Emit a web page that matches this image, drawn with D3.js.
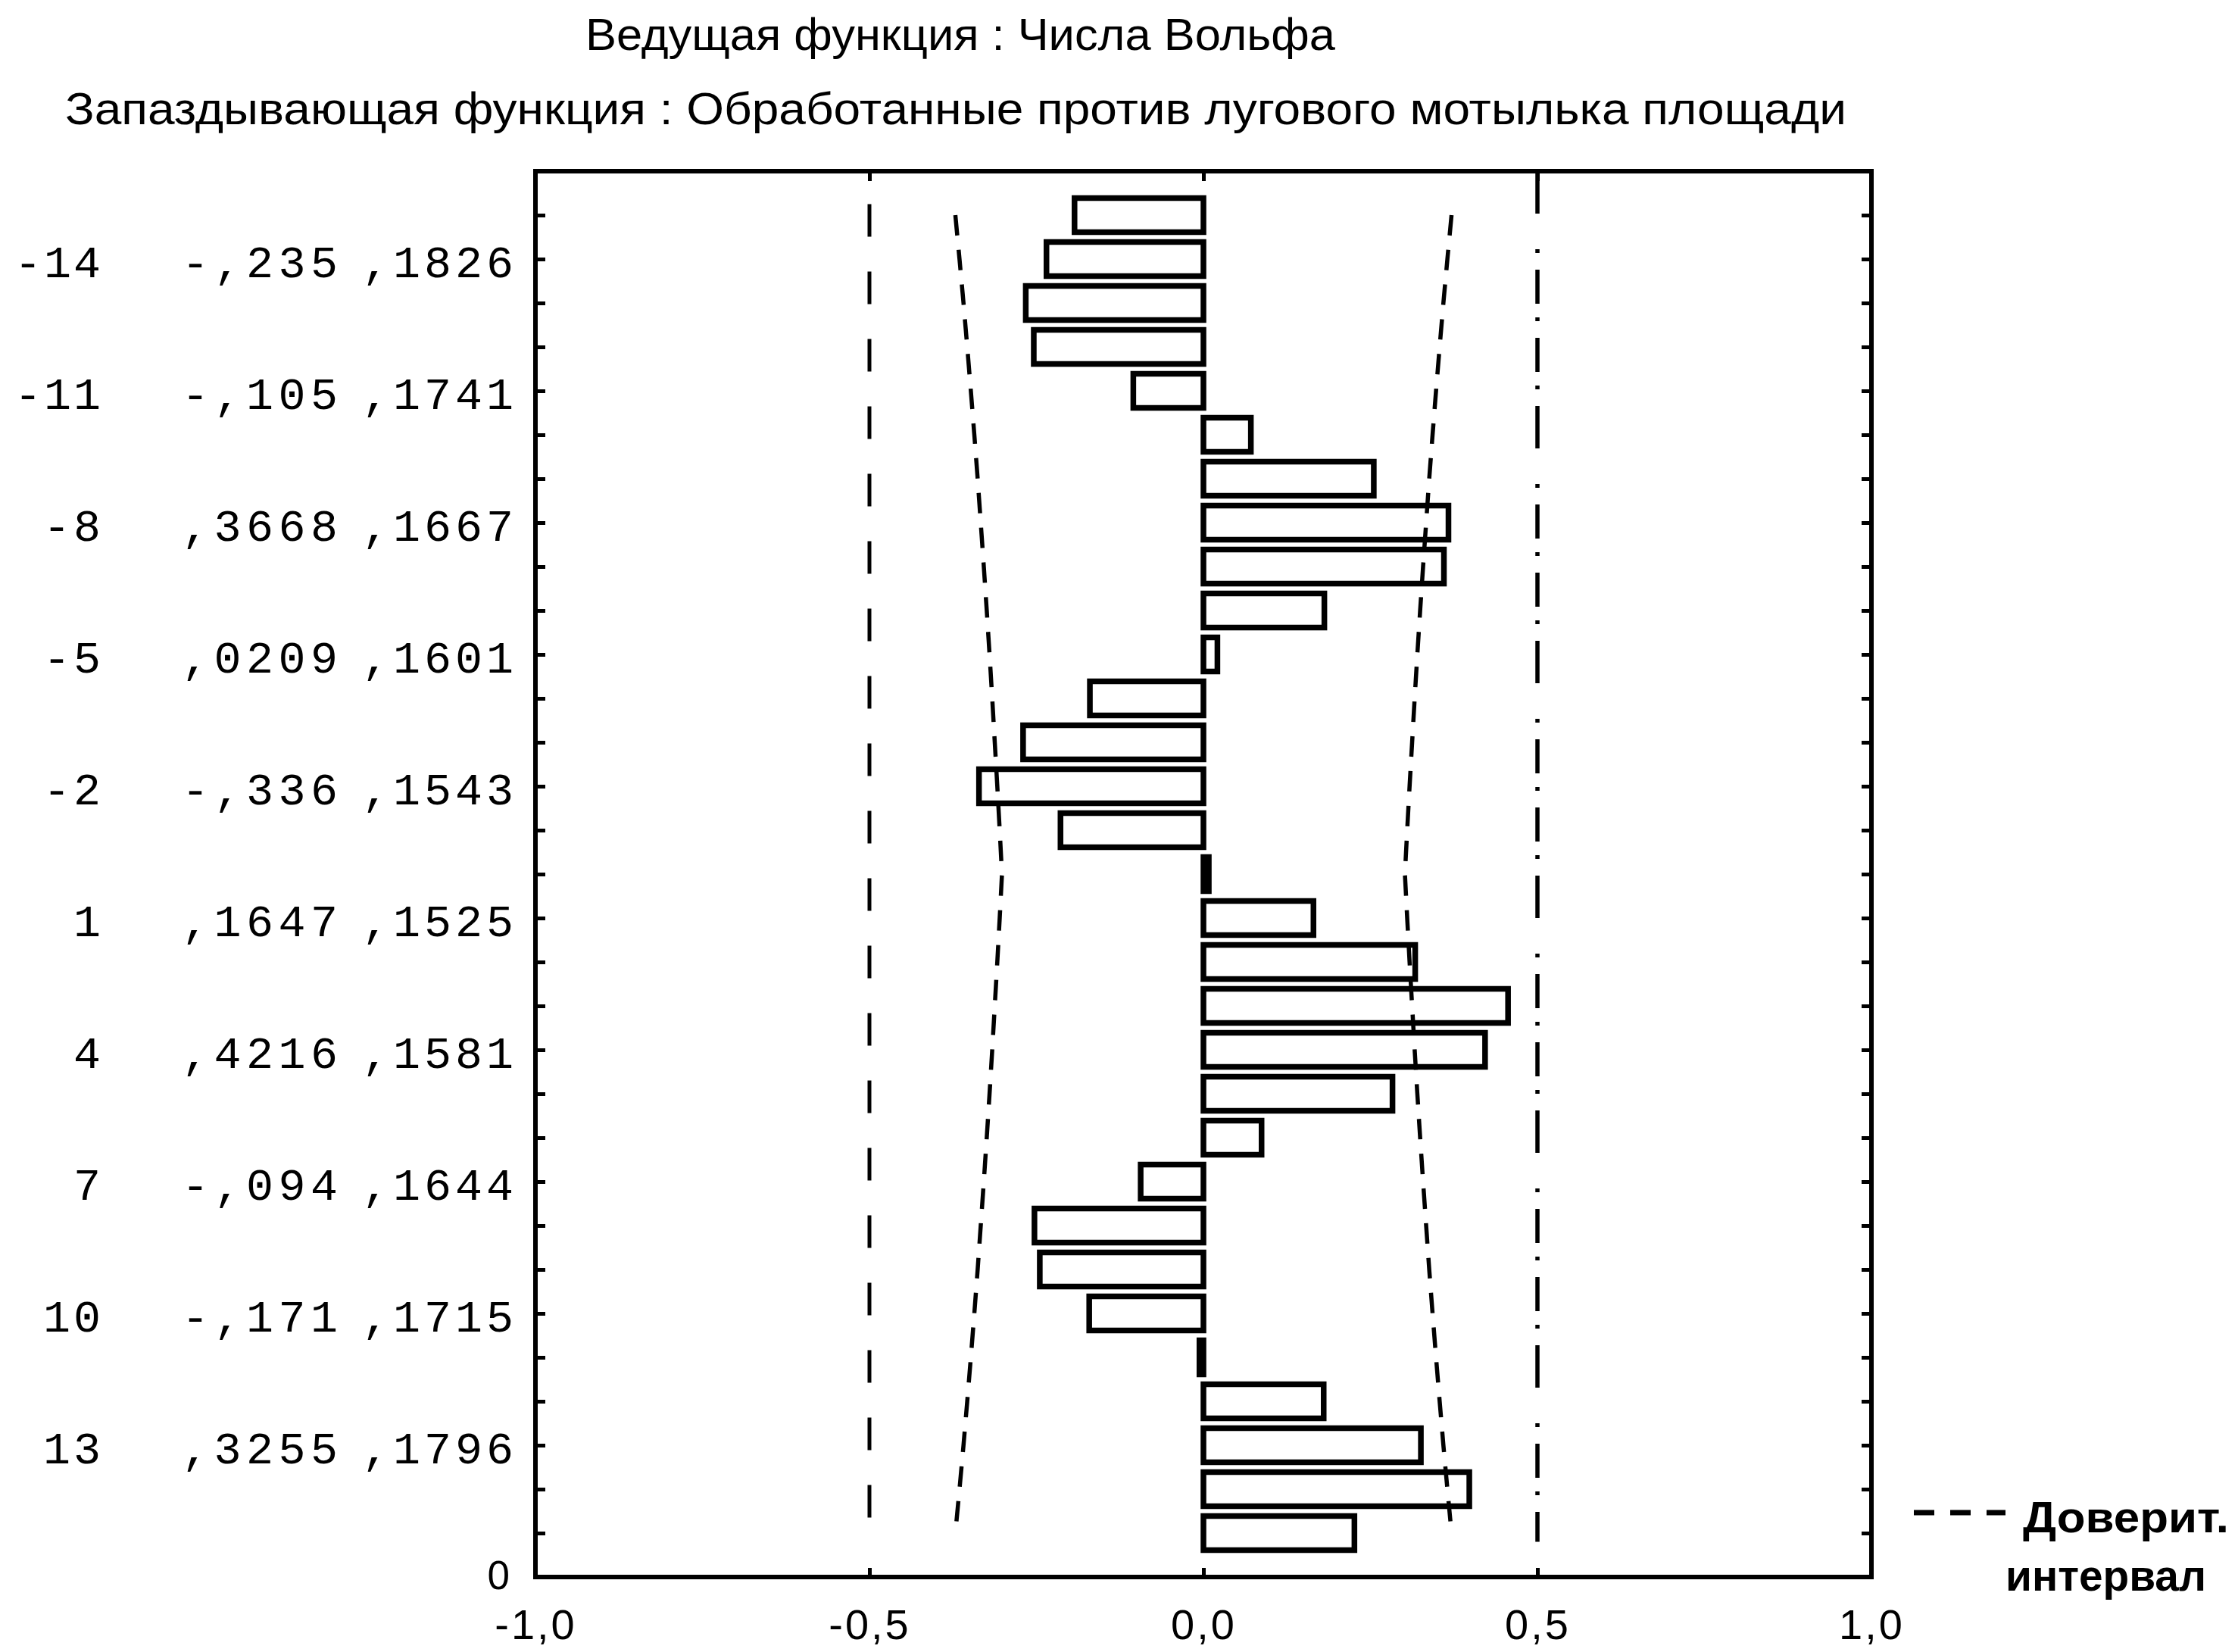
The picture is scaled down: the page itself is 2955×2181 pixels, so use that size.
<!DOCTYPE html>
<html><head><meta charset="utf-8">
<script src="https://cdn.jsdelivr.net/npm/d3@7"></script>
<style>html,body{margin:0;padding:0;background:#fff;} svg{display:block}</style>
</head><body>
<script>
// ---- data ----
const title1 = "Ведущая функция : Числа Вольфа";
const title2 = "Запаздывающая функция : Обработанные против лугового мотылька площади";
const lags = [-15,-14,-13,-12,-11,-10,-9,-8,-7,-6,-5,-4,-3,-2,-1,0,1,2,3,4,5,6,7,8,9,10,11,12,13,14,15];
const ccf = [-0.193,-0.235,-0.266,-0.254,-0.105,0.071,0.255,0.3668,0.360,0.181,0.0209,-0.170,-0.270,-0.336,-0.214,
             0.008,0.1647,0.317,0.456,0.4216,0.283,0.087,-0.094,-0.253,-0.245,-0.171,-0.006,0.180,0.3255,0.398,0.226];
const stdErr = [0.1857,0.1826,0.1796,0.1768,0.1741,0.1715,0.1690,0.1667,0.1644,0.1622,0.1601,0.1581,0.1562,0.1543,0.1525,
                0.1508,0.1525,0.1543,0.1562,0.1581,0.1601,0.1622,0.1644,0.1667,0.1690,0.1715,0.1741,0.1768,0.1796,0.1826,0.1857];
const labelLags = [-14,-11,-8,-5,-2,1,4,7,10,13];
const labelR  = ["-,235","-,105",",3668",",0209","-,336",",1647",",4216","-,094","-,171",",3255"];
const labelSE = [",1826",",1741",",1667",",1601",",1543",",1525",",1581",",1644",",1715",",1796"];
const xTicks = [-1,-0.5,0,0.5,1];
const xTickLabels = ["-1,0","-0,5","0,0","0,5","1,0"];
const refLines = [-0.5, 0.5];
const legendLines = ["Доверит.", "интервал"];

// ---- layout ----
const W = 2955, H = 2181;
const svg = d3.select("body").append("svg").attr("width", W).attr("height", H)
  .style("background", "#fff");
const x = d3.scaleLinear().domain([-1, 1]).range([707, 2471]);
const y = d3.scaleLinear().domain([0, 32]).range([2082, 226]);
const pos = lag => 16 - lag;
const sans = "'Liberation Sans', Arial, sans-serif";
const mono = "'Liberation Mono', 'Courier New', monospace";

// titles
svg.append("text").attr("x", 773).attr("y", 66).attr("font-family", sans).attr("font-size", 60)
  .attr("textLength", 990).attr("lengthAdjust", "spacingAndGlyphs").text(title1);
svg.append("text").attr("x", 86).attr("y", 164).attr("font-family", sans).attr("font-size", 60)
  .attr("textLength", 2352).attr("lengthAdjust", "spacingAndGlyphs").text(title2);

// axes (ticks inward)
const g = svg.append("g");
const ticksY = d3.range(1, 32);
g.append("g").attr("transform", `translate(${x.range()[0]},0)`)
  .call(d3.axisLeft(y).tickValues(ticksY).tickSize(-13).tickFormat(""));
g.append("g").attr("transform", `translate(${x.range()[1]},0)`)
  .call(d3.axisRight(y).tickValues(ticksY).tickSize(-13).tickFormat(""));
g.append("g").attr("transform", `translate(0,${y.range()[1]})`)
  .call(d3.axisTop(x).tickValues(xTicks).tickSize(-13).tickFormat(""));
const bx = g.append("g").attr("transform", `translate(0,${y.range()[0]})`)
  .call(d3.axisBottom(x).tickValues(xTicks).tickSize(-12).tickPadding(42)
    .tickFormat((d, i) => xTickLabels[i]));
g.selectAll(".domain").remove();
g.selectAll(".tick line").attr("stroke", "#000").attr("stroke-width", 5);
bx.selectAll(".tick text").attr("font-family", sans).attr("font-size", 56).attr("fill", "#000")
  .attr("letter-spacing", 3);

// frame
svg.append("rect").attr("x", x(-1)).attr("y", y(32)).attr("width", x(1) - x(-1)).attr("height", y(0) - y(32))
  .attr("fill", "none").attr("stroke", "#000").attr("stroke-width", 6);

// y "0" label
svg.append("text").attr("x", 673).attr("y", y(0)).attr("dy", "0.3em").attr("text-anchor", "end")
  .attr("font-family", sans).attr("font-size", 53).text("0");

// lag labels
const lab = svg.append("g").attr("font-family", mono).attr("font-size", 60).attr("fill", "#000");
labelLags.forEach((L, i) => {
  const yy = y(pos(L)) + 24;
  const s = String(L);
  lab.append("text").attr("x", 133).attr("y", yy).attr("text-anchor", "end")
    .attr("textLength", s.length * 38).attr("lengthAdjust", "spacing").text(s);
  lab.append("text").attr("x", 240).attr("y", yy)
    .attr("textLength", 206).attr("lengthAdjust", "spacing").text(labelR[i]);
  lab.append("text").attr("x", 678).attr("y", yy).attr("text-anchor", "end")
    .attr("textLength", 200).attr("lengthAdjust", "spacing").text(labelSE[i]);
});

// reference lines at +-0.5
svg.append("line").attr("x1", x(refLines[0])).attr("x2", x(refLines[0]))
  .attr("y1", y(31.25)).attr("y2", y(1.15))
  .attr("stroke", "#000").attr("stroke-width", 5).attr("stroke-dasharray", "43,46");
svg.append("line").attr("x1", x(refLines[1])).attr("x2", x(refLines[1]))
  .attr("y1", y(32)).attr("y2", y(0.8))
  .attr("stroke", "#000").attr("stroke-width", 5.5).attr("stroke-dasharray", "56,47,5,22,45,18,5,22,45,18,5,22");

// bars
const data = lags.map((L, i) => ({lag: L, v: ccf[i], se: stdErr[i]}));
const barH = 45;
svg.append("g").selectAll("rect").data(data).join("rect")
  .attr("x", d => x(Math.min(0, d.v)))
  .attr("width", d => Math.abs(x(d.v) - x(0)))
  .attr("y", d => y(pos(d.lag)) - barH / 2)
  .attr("height", barH)
  .attr("fill", "none").attr("stroke", "#000").attr("stroke-width", 7.5);

// confidence limits (+-2 SE)
const line = d3.line().x(d => d[0]).y(d => d[1]);
[-1, 1].forEach(s => {
  svg.append("path")
    .attr("d", line(data.map(d => [x(s * 2 * d.se), y(pos(d.lag))])))
    .attr("fill", "none").attr("stroke", "#000").attr("stroke-width", 5.5)
    .attr("stroke-dasharray", "27,19");
});

// legend
svg.append("line").attr("x1", 2527).attr("x2", 2648).attr("y1", 1997).attr("y2", 1997)
  .attr("stroke", "#000").attr("stroke-width", 7).attr("stroke-dasharray", "27,21");
svg.append("text").attr("x", 2671).attr("y", 2023).attr("font-family", sans).attr("font-weight", "bold")
  .attr("font-size", 58).attr("textLength", 272).attr("lengthAdjust", "spacingAndGlyphs").text(legendLines[0]);
svg.append("text").attr("x", 2648).attr("y", 2100).attr("font-family", sans).attr("font-weight", "bold")
  .attr("font-size", 58).attr("textLength", 265).attr("lengthAdjust", "spacingAndGlyphs").text(legendLines[1]);
</script>
</body></html>
